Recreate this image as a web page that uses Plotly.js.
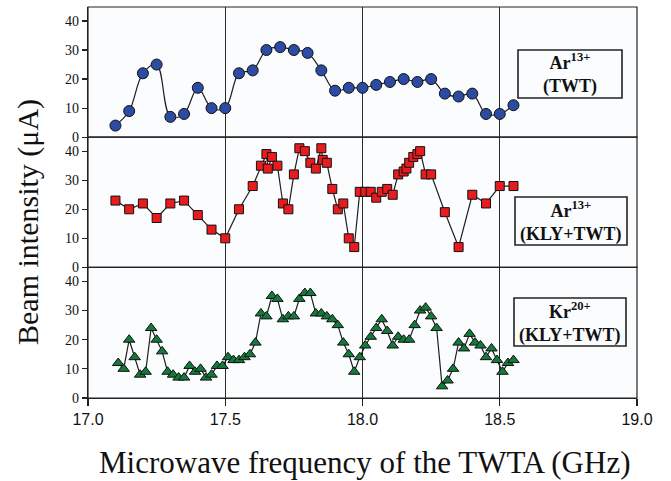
<!DOCTYPE html>
<html>
<head>
<meta charset="utf-8">
<script src="https://cdn.plot.ly/plotly-3.0.1.min.js"></script>
<style>html,body{margin:0;padding:0;background:#fff;}#chart{width:671px;height:481px;}</style>
</head>
<body>
<div id="chart"></div>
<script>
// Ar13+ (TWT)
const freqArTWT = [17.10,17.15,17.20,17.25,17.30,17.35,17.40,17.45,17.50,17.55,17.60,17.65,17.70,17.75,17.80,17.85,17.90,17.95,18.00,18.05,18.10,18.15,18.20,18.25,18.30,18.35,18.40,18.45,18.50,18.55];
const beamArTWT = [4,9,22,25,7,8,17,10,10,22,23,30,31,30,29,23,16,17,17,18,19,20,19,20,15,14,15,8,8,11];

// Ar13+ (KLY+TWT)
const freqArKLY = [17.10,17.15,17.20,17.25,17.30,17.35,17.40,17.45,17.50,17.55,17.60,17.63,17.65,17.655,17.67,17.69,17.71,17.73,17.75,17.77,17.79,17.81,17.83,17.85,17.855,17.87,17.89,17.91,17.93,17.95,17.97,17.99,18.01,18.03,18.05,18.07,18.09,18.11,18.13,18.15,18.16,18.17,18.185,18.20,18.21,18.23,18.25,18.30,18.35,18.40,18.45,18.50,18.55];
const beamArKLY = [23,20,22,17,22,23,18,13,10,20,28,35,39,34,38,35,22,20,32,41,40,36,34,41,37,36,27,20,22,10,7,26,26,26,24,26,27,25,32,33,34,36,38,39,40,32,32,19,7,25,22,28,28];

// Kr20+ (KLY+TWT)
const freqKr = [17.11,17.13,17.15,17.17,17.19,17.21,17.23,17.25,17.27,17.29,17.31,17.33,17.35,17.37,17.39,17.41,17.43,17.45,17.47,17.49,17.51,17.53,17.55,17.57,17.59,17.61,17.63,17.65,17.67,17.69,17.71,17.73,17.75,17.77,17.79,17.81,17.83,17.85,17.87,17.89,17.91,17.93,17.95,17.97,17.99,18.01,18.03,18.05,18.07,18.09,18.11,18.13,18.15,18.17,18.19,18.21,18.23,18.25,18.27,18.29,18.31,18.33,18.35,18.37,18.39,18.41,18.43,18.45,18.47,18.49,18.51,18.53,18.55];
const beamKr = [12,10,20,14,8,9,24,20,16,9,8,7,7,11,9,10,7,8,11,11,14,13,13,14,15,19,29,28,35,34,27,28,28,34,36,36,29,29,28,27,25,19,15,9,14,18,21,24,27,23,18,21,20,20,25,30,31,28,24,4,6,10,19,17,22,19,18,14,17,13,9,12,13];

const xTickVals = [17.0,17.5,18.0,18.5,19.0];
const xTickText = ['17.0','17.5','18.0','18.5','19.0'];
const yTickVals = [0,10,20,30,40];
const panelLabels = ['Ar<sup>13+</sup><br>(TWT)','Ar<sup>13+</sup><br>(KLY+TWT)','Kr<sup>20+</sup><br>(KLY+TWT)'];
const xTitle = 'Microwave frequency of the TWTA (GHz)';
const yTitle = 'Beam intensity (μA)';

const lineStyle = {color:'#1e1e1e', width:1.2};
const traces = [
  {x:freqArTWT, y:beamArTWT, xaxis:'x', yaxis:'y', mode:'lines+markers',
   line:Object.assign({shape:'spline', smoothing:1}, lineStyle),
   marker:{symbol:'circle', size:11, color:'#2c4ca3', line:{color:'#111', width:1}}},
  {x:freqArKLY, y:beamArKLY, xaxis:'x', yaxis:'y2', mode:'lines+markers',
   line:lineStyle,
   marker:{symbol:'square', size:9, color:'#e81c1f', line:{color:'#111', width:1}}},
  {x:freqKr, y:beamKr, xaxis:'x', yaxis:'y3', mode:'lines+markers',
   line:lineStyle,
   marker:{symbol:'triangle-up', size:10, color:'#137a3b', line:{color:'#111', width:1}}}
];

const L = 88, R = 637, T = 7, B = 398, W = 671, H = 481;
const px = v => (v - L) / (R - L);
const py = v => (B - v) / (B - T);

const yCommon = {
  range:[0,44.8], tickvals:yTickVals, ticks:'outside', ticklen:5, tickwidth:1.2, tickcolor:'#222',
  showline:true, linecolor:'#222', linewidth:1.2, showgrid:false, zeroline:false,
  tickfont:{family:'Liberation Serif, Times New Roman, serif', size:14, color:'#111'}, anchor:'x'
};

const domains = [[0.667,1],[0.334,0.667],[0,0.334]];
const boxes = [[518,622,50,98],[515,627,197,245],[514,626,298,346]];

const shapes = [];
domains.forEach(d => shapes.push({type:'rect', xref:'paper', yref:'paper', x0:0, x1:1, y0:d[0], y1:d[1], line:{color:'#222', width:1.2}, fillcolor:'rgba(0,0,0,0)'}));
boxes.forEach(b => shapes.push({type:'rect', xref:'paper', yref:'paper', x0:px(b[0]), x1:px(b[1]), y0:py(b[3]), y1:py(b[2]), line:{color:'#222', width:1.6}, fillcolor:'rgba(0,0,0,0)'}));

const annotations = boxes.map((b,i) => ({
  xref:'paper', yref:'paper', x:px((b[0]+b[1])/2), y:py((b[2]+b[3])/2), xanchor:'center', yanchor:'middle',
  text:'<b>'+panelLabels[i]+'</b>', showarrow:false, align:'center',
  font:{family:'Liberation Serif, Times New Roman, serif', size:18, color:'#111'}
}));
annotations.push({xref:'paper', yref:'paper', x:px(364), y:py(462), xanchor:'center', yanchor:'middle', text:xTitle, showarrow:false,
  font:{family:'Liberation Serif, Times New Roman, serif', size:31, color:'#111'}});
annotations.push({xref:'paper', yref:'paper', x:px(28), y:py(222), xanchor:'center', yanchor:'middle', text:yTitle, showarrow:false, textangle:-90,
  font:{family:'Liberation Serif, Times New Roman, serif', size:30, color:'#111'}});

const layout = {
  width:W, height:H,
  margin:{l:L, r:W-R, t:T, b:H-B},
  paper_bgcolor:'#ffffff', plot_bgcolor:'#fbfcfe',
  showlegend:false,
  xaxis:{range:[17,19], tickvals:xTickVals, ticktext:xTickText, ticks:'outside', ticklen:7, tickwidth:1.2, tickcolor:'#222',
    showgrid:true, gridcolor:'#2a2a2a', gridwidth:1.2, zeroline:false, showline:true, linecolor:'#222', linewidth:1.2,
    anchor:'y3', tickfont:{family:'Liberation Sans, Arial, sans-serif', size:16, color:'#111'}},
  yaxis:Object.assign({domain:domains[0]}, yCommon),
  yaxis2:Object.assign({domain:domains[1]}, yCommon),
  yaxis3:Object.assign({domain:domains[2]}, yCommon),
  shapes:shapes, annotations:annotations
};

Plotly.newPlot('chart', traces, layout, {displayModeBar:false, staticPlot:true});
</script>
</body>
</html>
